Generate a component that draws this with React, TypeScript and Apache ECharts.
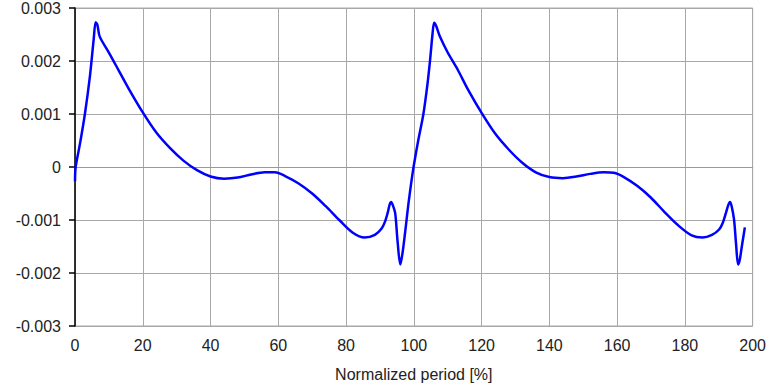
import React, { useEffect, useRef } from "react";
import * as echarts from "echarts";

const xTicks = [0, 20, 40, 60, 80, 100, 120, 140, 160, 180, 200];
const yTicks = [-0.003, -0.002, -0.001, 0, 0.001, 0.002, 0.003];

const periodX = [
  0, 0.2, 1.5, 2.9, 4.4, 5.5, 6.1, 6.6, 7.3, 10, 13, 16, 20, 24, 28, 32, 36, 40,
  44, 48, 52, 56, 59, 62, 66, 70, 74, 78, 82, 85.5, 88.5, 90.5, 91.5, 92.3,
  92.9, 93.3, 93.8, 94.5, 95.2, 96, 96.6, 97.4, 98.5, 99.8, 101.3, 102.8, 104,
  104.8, 105.5, 106, 106.6, 107.7, 110, 113, 116, 120, 124, 128, 132, 136, 140,
  144, 148, 152, 156, 159, 162, 166, 170, 174, 178, 182, 185.2, 188, 190.1,
  191.2, 192.1, 192.8, 193.3, 193.8, 194.5, 195.1, 195.7, 196.2, 196.8, 197.7,
];

const strainY = [
  -0.00027, 0, 0.00045, 0.00099, 0.00171, 0.0024, 0.00273, 0.00268, 0.00246,
  0.00216, 0.00181, 0.00146, 0.00103, 0.00065, 0.00036, 0.00012, -0.00006,
  -0.00018, -0.00022, -0.0002, -0.00014, -0.0001, -0.0001, -0.00017, -0.00031,
  -0.0005, -0.00074, -0.001, -0.00124, -0.00133, -0.00128, -0.00116, -0.00103,
  -0.00086, -0.0007, -0.00066, -0.00072, -0.00087, -0.0014, -0.00184,
  -0.00165, -0.00125, -0.00065, -0.00005, 0.0005, 0.00099, 0.00155, 0.00202,
  0.0025, 0.00272, 0.00266, 0.00246, 0.00216, 0.00183, 0.00146, 0.00102,
  0.00063, 0.00033, 0.00008, -0.0001, -0.00019, -0.00021, -0.00018, -0.00013,
  -0.0001, -0.00011, -0.00019, -0.00036, -0.00058, -0.00085, -0.0011,
  -0.00129, -0.00133, -0.00128, -0.00118, -0.00105, -0.00087, -0.00072,
  -0.00066, -0.00074, -0.00099, -0.00145, -0.00184, -0.00175, -0.0015,
  -0.00114,
];

const xName = "Normalized period [%]";

export default function App() {
  const ref = useRef<HTMLDivElement>(null);
  useEffect(() => {
    if (!ref.current) return;
    const chart = echarts.init(ref.current, undefined, { renderer: "svg" });
    const font = "Liberation Sans, Arial, sans-serif";
    chart.setOption({
      animation: false,
      backgroundColor: "#ffffff",
      grid: {
        left: 75,
        right: 13,
        top: 8,
        bottom: 63,
        show: true,
        borderColor: "#a8a8a8",
        borderWidth: 1,
      },
      xAxis: {
        type: "value",
        min: xTicks[0],
        max: xTicks[xTicks.length - 1],
        interval: 20,
        name: xName,
        nameLocation: "middle",
        nameGap: 40,
        nameTextStyle: { fontFamily: font, fontSize: 16, color: "#222" },
        axisLine: { show: true, lineStyle: { color: "#999", width: 1 } },
        axisTick: { show: false },
        axisLabel: { fontFamily: font, fontSize: 16, color: "#222", margin: 11 },
        splitLine: { show: true, lineStyle: { color: "#a8a8a8", width: 1 } },
      },
      yAxis: {
        type: "value",
        min: yTicks[0],
        max: yTicks[yTicks.length - 1],
        interval: 0.001,
        axisLine: { show: true, lineStyle: { color: "#000", width: 1.5 } },
        axisTick: { show: true, length: 6, lineStyle: { color: "#000", width: 1.5 } },
        axisLabel: {
          fontFamily: font,
          fontSize: 16,
          color: "#222",
          margin: 14,
          formatter: (v: number) => String(Number(v.toFixed(3))),
        },
        splitLine: { show: true, lineStyle: { color: "#a8a8a8", width: 1 } },
      },
      series: [
        {
          type: "line",
          data: periodX.map((x, i) => [x, strainY[i]]),
          showSymbol: false,
          smooth: 0.3,
          lineStyle: { color: "#0000ff", width: 2.5 },
        },
      ],
    });
    return () => chart.dispose();
  }, []);
  return <div ref={ref} style={{ width: 769, height: 389, position: "absolute", left: 0, top: 0 }} />;
}
